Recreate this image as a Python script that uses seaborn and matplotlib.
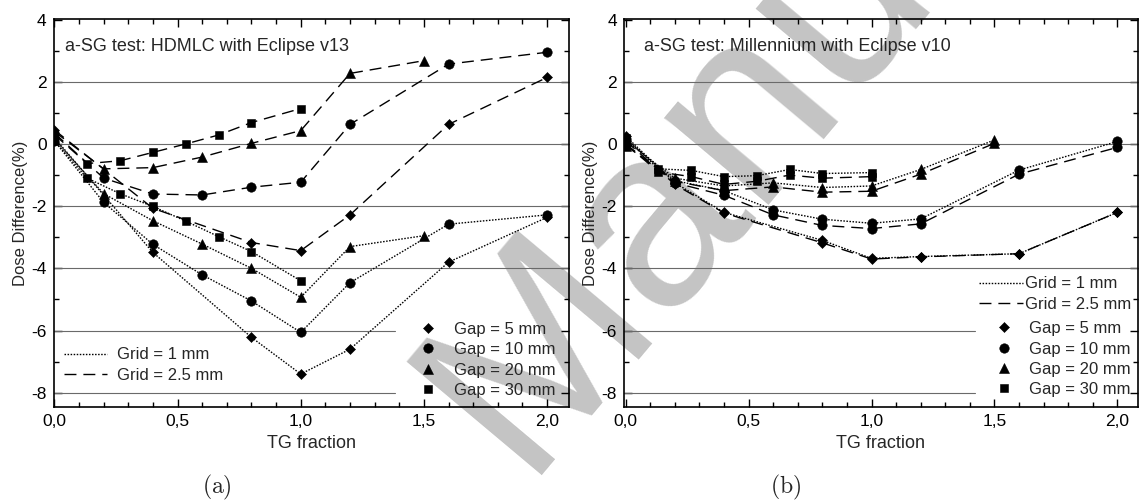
import matplotlib
matplotlib.use("Agg")
import matplotlib.pyplot as plt
import numpy as np
import pandas as pd
import seaborn as sns
from matplotlib.lines import Line2D
from matplotlib.ticker import MultipleLocator, FuncFormatter

sns.set_style("ticks", rc={"axes.edgecolor": "black", "xtick.color": "black",
                           "ytick.color": "black", "axes.facecolor": "none"})
plt.rcParams["font.family"] = ["Liberation Sans", "DejaVu Sans"]
plt.rcParams["mathtext.fontset"] = "cm"

# ---------------- data ----------------
gaps = ["Gap = 5 mm", "Gap = 10 mm", "Gap = 20 mm", "Gap = 30 mm"]
grids = ["Grid = 1 mm", "Grid = 2.5 mm"]

# TG fraction sampling per gap
xa_gap5 = [0.0, 0.4, 0.8, 1.0, 1.2, 1.6, 2.0]
xb_gap5 = [0.0, 0.2, 0.4, 0.8, 1.0, 1.2, 1.6, 2.0]
x_gap10 = [0.0, 0.2, 0.4, 0.6, 0.8, 1.0, 1.2, 1.6, 2.0]
x_gap20 = [0.0, 0.2, 0.4, 0.6, 0.8, 1.0, 1.2, 1.5]
x_gap30 = [0.0, 0.133, 0.267, 0.4, 0.533, 0.667, 0.8, 1.0]

# Panel (a): HDMLC with Eclipse v13
a_grid1_gap5 = [0.20, -3.49, -6.22, -7.40, -6.60, -3.80, -2.36]
a_grid1_gap10 = [0.10, -1.88, -3.23, -4.21, -5.05, -6.06, -4.46, -2.58, -2.28]
a_grid1_gap20 = [0.15, -1.60, -2.47, -3.22, -4.00, -4.93, -3.30, -2.95]
a_grid1_gap30 = [0.10, -1.10, -1.60, -2.01, -2.48, -2.98, -3.46, -4.40]
a_grid25_gap5 = [0.45, -2.07, -3.17, -3.43, -2.28, 0.63, 2.14]
a_grid25_gap10 = [0.35, -1.10, -1.61, -1.64, -1.39, -1.23, 0.63, 2.57, 2.95]
a_grid25_gap20 = [0.40, -0.80, -0.76, -0.42, 0.02, 0.43, 2.27, 2.68]
a_grid25_gap30 = [0.30, -0.63, -0.54, -0.27, 0.00, 0.29, 0.69, 1.14]

# Panel (b): Millennium with Eclipse v10
b_grid1_gap5 = [0.25, -1.25, -2.20, -3.10, -3.68, -3.62, -3.53, -2.20]
b_grid1_gap10 = [0.15, -1.18, -1.50, -2.12, -2.42, -2.55, -2.41, -0.84, 0.08]
b_grid1_gap20 = [0.10, -1.10, -1.35, -1.25, -1.40, -1.35, -0.82, 0.13]
b_grid1_gap30 = [0.20, -0.80, -0.85, -1.05, -1.02, -0.82, -0.95, -0.92]
b_grid25_gap5 = [0.10, -1.30, -2.22, -3.18, -3.70, -3.63, -3.53, -2.20]
b_grid25_gap10 = [0.00, -1.25, -1.65, -2.28, -2.62, -2.72, -2.57, -0.97, -0.11]
b_grid25_gap20 = [-0.05, -1.20, -1.50, -1.38, -1.55, -1.52, -0.97, 0.02]
b_grid25_gap30 = [0.00, -0.90, -1.05, -1.30, -1.20, -1.00, -1.10, -1.05]

titles = ["a-SG test: HDMLC with Eclipse v13", "a-SG test: Millennium with Eclipse v10"]
xlabel = "TG fraction"
ylabel = "Dose Difference(%)"
captions = ["(a)", "(b)"]

# ---------------- long table ----------------
rows = []
def add(panel, grid, gap, xs, ys):
    for x, y in zip(xs, ys):
        rows.append(dict(panel=panel, grid=grid, gap=gap, tg=x, diff=y))

add("a", grids[0], gaps[0], xa_gap5, a_grid1_gap5)
add("a", grids[0], gaps[1], x_gap10, a_grid1_gap10)
add("a", grids[0], gaps[2], x_gap20, a_grid1_gap20)
add("a", grids[0], gaps[3], x_gap30, a_grid1_gap30)
add("a", grids[1], gaps[0], xa_gap5, a_grid25_gap5)
add("a", grids[1], gaps[1], x_gap10, a_grid25_gap10)
add("a", grids[1], gaps[2], x_gap20, a_grid25_gap20)
add("a", grids[1], gaps[3], x_gap30, a_grid25_gap30)
add("b", grids[0], gaps[0], xb_gap5, b_grid1_gap5)
add("b", grids[0], gaps[1], x_gap10, b_grid1_gap10)
add("b", grids[0], gaps[2], x_gap20, b_grid1_gap20)
add("b", grids[0], gaps[3], x_gap30, b_grid1_gap30)
add("b", grids[1], gaps[0], xb_gap5, b_grid25_gap5)
add("b", grids[1], gaps[1], x_gap10, b_grid25_gap10)
add("b", grids[1], gaps[2], x_gap20, b_grid25_gap20)
add("b", grids[1], gaps[3], x_gap30, b_grid25_gap30)
df = pd.DataFrame(rows)

# ---------------- styles ----------------
marker_of = {gaps[0]: "D", gaps[1]: "o", gaps[2]: "^", gaps[3]: "s"}
msize_of = {gaps[0]: 5.4, gaps[1]: 6.8, gaps[2]: 7.2, gaps[3]: 6.0}
dash_of = {grids[0]: (1.1, 1.1), grids[1]: (8.6, 5.0)}
LW = 1.0

W, H = 1139, 500
fig = plt.figure(figsize=(W / 100, H / 100), dpi=100)
fig.patch.set_facecolor("white")

# watermark (behind everything)
fig.text(0.458, 0.05, "Manuscript", rotation=50, rotation_mode="anchor",
         ha="left", va="baseline", fontsize=185, color="#c4c4c4", zorder=-10)

top_px, bot_px = 19.0, 406.7
axes_px = {"a": (53.5, 569.0), "b": (624.0, 1137.5)}
xlims = {"a": (-0.0037, 2.089), "b": (-0.0069, 2.082)}
cuts = {"a": 0.662, "b": 0.684}

def fmt_x(v, p):
    if abs(v) < 1e-9:
        v = 0.0
    return f"{v:.1f}".replace(".", ",")

def fmt_y(v, p):
    return f"{int(round(v))}"

axs = {}
for key in ["a", "b"]:
    l, r = axes_px[key]
    ax = fig.add_axes([l / W, 1 - bot_px / H, (r - l) / W, (bot_px - top_px) / H])
    ax.set_facecolor("none")
    axs[key] = ax
    sub = df[df.panel == key]
    for gap in gaps:
        g = sub[sub.gap == gap]
        sns.lineplot(data=g, x="tg", y="diff", style="grid",
                     markers={grids[0]: marker_of[gap], grids[1]: marker_of[gap]},
                     dashes=dash_of, color="black", lw=LW, ms=msize_of[gap],
                     markeredgecolor="black", markeredgewidth=0.4,
                     estimator=None, sort=False, legend=False, ax=ax, zorder=3)
    for y in [2, 0, -2, -4]:
        ax.axhline(y, color="#6a6a6a", lw=0.8, zorder=1)
    for y in [-6, -8]:
        ax.axhline(y, xmin=0, xmax=cuts[key], color="#6a6a6a", lw=0.8, zorder=1)

    ax.set_xlim(*xlims[key])
    ax.set_ylim(-8.45, 4.02)
    ax.xaxis.set_major_locator(MultipleLocator(0.5))
    ax.xaxis.set_minor_locator(MultipleLocator(0.1))
    ax.yaxis.set_major_locator(MultipleLocator(2))
    ax.yaxis.set_minor_locator(MultipleLocator(1))
    ax.xaxis.set_major_formatter(FuncFormatter(fmt_x))
    ax.yaxis.set_major_formatter(FuncFormatter(fmt_y))
    ax.tick_params(which="both", direction="in", top=True, right=True,
                   labelsize=12.5, width=1.0)
    ax.tick_params(which="major", length=6, pad=5)
    ax.tick_params(which="minor", length=3.5)
    for s in ax.spines.values():
        s.set_visible(True)
        s.set_linewidth(1.2)
        s.set_color("black")
    ax.set_xlabel(xlabel, fontsize=13)
    ax.set_ylabel(ylabel, fontsize=12)
    ax.xaxis.set_label_coords(0.5, -0.072)
    ax.yaxis.set_label_coords(-0.05, 0.5)

axs["a"].text(0.0223, 0.930, titles[0], transform=axs["a"].transAxes,
              fontsize=13, ha="left", va="center")
axs["b"].text(0.039, 0.930, titles[1], transform=axs["b"].transAxes,
              fontsize=13, ha="left", va="center")

grid_handles = [Line2D([], [], color="black", lw=LW, ls=(0, dash_of[g])) for g in grids]
gap_handles = [Line2D([], [], color="black", ls="none", marker=marker_of[g],
                      ms=msize_of[g], mec="black", mew=0.4) for g in gaps]

# panel (a) legends
lg = axs["a"].legend(grid_handles, grids, loc="upper left", bbox_to_anchor=(0.0204, 0.1527),
                     frameon=False, fontsize=12, handlelength=2.6, handletextpad=0.55,
                     labelspacing=0.34, borderpad=0, borderaxespad=0)
axs["a"].add_artist(lg)
axs["a"].legend(gap_handles, gaps, loc="upper left", bbox_to_anchor=(0.7071, 0.2185),
                frameon=False, fontsize=12, handlelength=1.2, handletextpad=0.96,
                labelspacing=0.32, borderpad=0, borderaxespad=0)

# panel (b) legends
lg = axs["b"].legend(grid_handles, grids, loc="upper left", bbox_to_anchor=(0.691, 0.3359),
                     frameon=False, fontsize=12, handlelength=2.64, handletextpad=0.12,
                     labelspacing=0.35, borderpad=0, borderaxespad=0)
axs["b"].add_artist(lg)
axs["b"].legend(gap_handles, gaps, loc="upper left", bbox_to_anchor=(0.7205, 0.2203),
                frameon=False, fontsize=12, handlelength=1.2, handletextpad=0.9,
                labelspacing=0.32, borderpad=0, borderaxespad=0)

fig.text(217 / W, 1 - 487 / H, r"$\mathrm{" + captions[0] + "}$", fontsize=17,
         ha="center", va="center")
fig.text(786 / W, 1 - 487 / H, r"$\mathrm{" + captions[1] + "}$", fontsize=17,
         ha="center", va="center")

fig.savefig("out.png", dpi=100, facecolor="white")
